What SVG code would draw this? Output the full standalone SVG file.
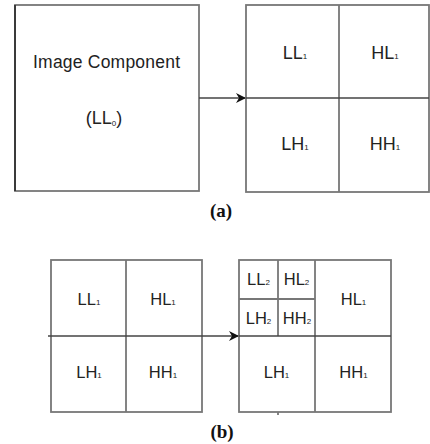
<svg xmlns="http://www.w3.org/2000/svg" width="430" height="444" viewBox="0 0 430 444">
<defs>
<style>
.ln{stroke:#777;stroke-width:1.8;fill:none}
.dk{stroke:#444;stroke-width:1.6;fill:none}
.t{font-family:"Liberation Sans",Arial,sans-serif;fill:#222;text-anchor:middle}
.a{font-size:18px}
.b{font-size:16.5px}
.s{font-size:8px}
.cap{font-family:"Liberation Serif","Times New Roman",serif;font-weight:bold;font-size:19px;fill:#111;text-anchor:middle}
</style>
<marker id="ah" markerWidth="10" markerHeight="10" refX="9" refY="5" orient="auto" markerUnits="userSpaceOnUse">
<path d="M0,0 L10,5 L0,10 L3,5 Z" fill="#111"/>
</marker>
</defs>
<rect width="430" height="444" fill="#fff"/>

<g id="image-component">
<rect class="ln" x="15" y="5" width="184" height="186"/>
<line x1="15" y1="5" x2="15" y2="191" stroke="#333" stroke-width="1.8"/>
<text class="t" style="font-size:17.5px" x="106.5" y="68" textLength="147">Image Component</text>
<text class="t a" x="104" y="124">(LL<tspan class="s" dy="2">0</tspan><tspan dy="-2">)</tspan></text>
</g>

<g id="level1-a">
<rect class="ln" x="246" y="5" width="183" height="187"/>
<line class="ln" x1="339" y1="5" x2="339" y2="192"/>
<line class="dk" x1="246" y1="98" x2="429" y2="98"/>
<text class="t a" x="295" y="59">LL<tspan class="s">1</tspan></text>
<text class="t a" x="385" y="59">HL<tspan class="s">1</tspan></text>
<text class="t a" x="295" y="150">LH<tspan class="s">1</tspan></text>
<text class="t a" x="385" y="150">HH<tspan class="s">1</tspan></text>
</g>

<g id="level1-b">
<rect class="ln" x="51" y="260" width="151" height="152"/>
<line class="ln" x1="126" y1="260" x2="126" y2="412"/>
<text class="t b" x="89" y="305">LL<tspan class="s">1</tspan></text>
<text class="t b" x="163" y="305">HL<tspan class="s">1</tspan></text>
<text class="t b" x="89" y="378">LH<tspan class="s">1</tspan></text>
<text class="t b" x="163" y="378">HH<tspan class="s">1</tspan></text>
</g>

<g id="level2-b">
<rect class="ln" x="239" y="260" width="152" height="152"/>
<line class="ln" x1="315" y1="260" x2="315" y2="412"/>
<line class="ln" x1="278" y1="260" x2="278" y2="336"/>
<line class="ln" x1="239" y1="299" x2="315" y2="299"/>
<line class="dk" x1="239" y1="336" x2="391" y2="336"/>
<line class="ln" x1="278" y1="412" x2="278" y2="415"/>
<text class="t b" x="258.5" y="285">LL<tspan class="s">2</tspan></text>
<text class="t b" x="296.5" y="285">HL<tspan class="s">2</tspan></text>
<text class="t b" x="258.5" y="324">LH<tspan class="s">2</tspan></text>
<text class="t b" x="297" y="324">HH<tspan class="s">2</tspan></text>
<text class="t b" x="353.5" y="305">HL<tspan class="s">1</tspan></text>
<text class="t b" x="276.5" y="378">LH<tspan class="s">1</tspan></text>
<text class="t b" x="353.5" y="378">HH<tspan class="s">1</tspan></text>
</g>

<g id="connectors">
<line class="dk" x1="199" y1="98" x2="245" y2="98" marker-end="url(#ah)"/>
<line class="dk" x1="48" y1="336" x2="238" y2="336" marker-end="url(#ah)"/>
</g>

<g id="captions">
<text class="cap" x="221" y="217">(a)</text>
<text class="cap" x="222" y="438">(b)</text>
</g>
</svg>
